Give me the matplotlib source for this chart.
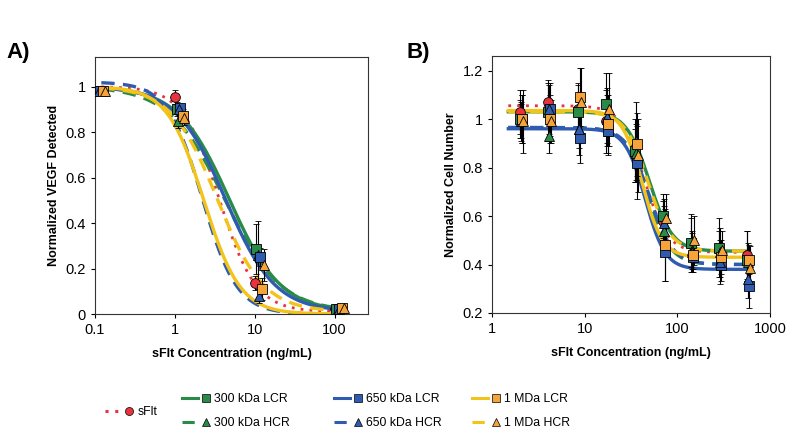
import numpy as np
import matplotlib
matplotlib.use("Agg")
import matplotlib.pyplot as plt
from matplotlib.lines import Line2D
from matplotlib.legend_handler import HandlerTuple

plt.rcParams['font.family'] = ['Liberation Sans', 'DejaVu Sans']

# series names
names = ['sFlt', '300 kDa LCR', '300 kDa HCR', '650 kDa LCR', '650 kDa HCR',
         '1 MDa LCR', '1 MDa HCR']

# panel A : VEGF detected
conc_a = [0.1, 1, 10, 100]
x_shift_a = [1.0, 1.05, 1.1, 1.15, 1.12, 1.25, 1.32]
vegf_y = [
    [0.98, 0.955, 0.135, 0.02],
    [0.98, 0.90, 0.285, 0.02],
    [0.98, 0.85, 0.26, 0.02],
    [0.98, 0.905, 0.25, 0.02],
    [0.98, 0.90, 0.08, 0.02],
    [0.98, 0.87, 0.11, 0.025],
    [0.98, 0.86, 0.215, 0.025],
]
vegf_err = [
    [0.01, 0.03, 0.03, 0.01],
    [0.01, 0.03, 0.11, 0.01],
    [0.01, 0.03, 0.15, 0.01],
    [0.01, 0.02, 0.04, 0.01],
    [0.01, 0.02, 0.03, 0.01],
    [0.01, 0.03, 0.05, 0.01],
    [0.01, 0.03, 0.07, 0.01],
]
# fit parameters (top, bottom, EC50, hill)
fit_a = [
    (1.00, 0.01, 3.6, 1.9),
    (1.00, 0.01, 4.8, 1.35),
    (1.00, 0.01, 4.2, 1.25),
    (1.00, 0.01, 4.3, 1.4),
    (1.02, 0.00, 2.2, 2.0),
    (1.00, 0.00, 2.3, 1.9),
    (1.00, 0.01, 3.4, 1.5),
]

# panel B : cell number
conc_b = [2, 4, 8.5, 17, 35, 70, 140, 280, 560]
x_shift_b = [1.0, 1.0, 1.03, 1.05, 1.03, 1.05, 1.08]
cell_y = [
    [1.03, 1.07, 1.04, 0.99, 0.85, 0.58, 0.49, 0.46, 0.44],
    [1.00, 1.03, 1.03, 1.06, 0.87, 0.60, 0.49, 0.47, 0.42],
    [0.99, 0.93, 0.96, 1.00, 0.86, 0.54, 0.46, 0.45, 0.41],
    [1.00, 1.04, 0.92, 0.95, 0.82, 0.45, 0.43, 0.40, 0.31],
    [0.99, 1.04, 0.96, 1.01, 0.91, 0.57, 0.45, 0.41, 0.34],
    [1.00, 1.00, 1.09, 0.98, 0.895, 0.48, 0.44, 0.43, 0.42],
    [0.99, 0.99, 1.07, 1.04, 0.85, 0.59, 0.50, 0.46, 0.385],
]
cell_err = [
    [0.09, 0.09, 0.10, 0.13, 0.11, 0.08, 0.10, 0.08, 0.10],
    [0.08, 0.12, 0.12, 0.13, 0.13, 0.09, 0.12, 0.12, 0.12],
    [0.07, 0.07, 0.08, 0.10, 0.12, 0.10, 0.08, 0.10, 0.08],
    [0.10, 0.11, 0.10, 0.10, 0.15, 0.12, 0.06, 0.07, 0.09],
    [0.08, 0.10, 0.11, 0.12, 0.16, 0.10, 0.08, 0.09, 0.08],
    [0.10, 0.10, 0.12, 0.12, 0.13, 0.15, 0.06, 0.07, 0.06],
    [0.13, 0.09, 0.14, 0.15, 0.15, 0.10, 0.10, 0.08, 0.09],
]
fit_b = [
    (1.055, 0.45, 44, 3.5),
    (1.03, 0.455, 50, 3.5),
    (0.965, 0.40, 48, 3.5),
    (0.96, 0.38, 45, 4.0),
    (0.965, 0.40, 50, 3.5),
    (1.035, 0.43, 42, 4.0),
    (1.03, 0.455, 48, 3.5),
]

green = '#2a8a48'
blue = '#2f5cb0'
yellow = '#f2c318'
orange = '#f5a33a'
red = '#e8333f'
line_col = [red, green, green, blue, blue, yellow, yellow]
mark_col = [red, green, green, blue, blue, orange, orange]
markers = ['o', 's', '^', 's', '^', 's', '^']
styles = [(0, (1, 2.2)), '-', (0, (4, 2.5)), '-', (0, (4, 2.5)), '-', (0, (4, 2.5))]


def logistic(x, top, bottom, ec50, hill):
    return bottom + (top - bottom) / (1 + (x / ec50) ** hill)


fig = plt.figure(figsize=(8, 4.43), dpi=100)
ax_a = fig.add_axes([95 / 800, 1 - 314 / 443, 273 / 800, 257 / 443])
ax_b = fig.add_axes([492 / 800, 1 - 313 / 443, 278 / 800, 257 / 443])

xa = np.logspace(np.log10(0.12), np.log10(100), 300)
xb = np.logspace(np.log10(1.5), np.log10(600), 300)

for i in range(len(names)):
    lw = 2.4 if i > 0 else 2.0
    ax_a.plot(xa, logistic(xa, *fit_a[i]), color=line_col[i], ls=styles[i], lw=lw, zorder=2)
    ax_b.plot(xb, logistic(xb, *fit_b[i]), color=line_col[i], ls=styles[i], lw=lw, zorder=2)

for i in range(len(names)):
    xs = np.array(conc_a) * x_shift_a[i]
    ax_a.errorbar(xs, vegf_y[i], yerr=vegf_err[i], fmt=markers[i], color='black',
                  mfc=mark_col[i], mec='black', mew=0.6, ms=7, ecolor='black',
                  elinewidth=0.8, capsize=2.5, zorder=3)
    xs = np.array(conc_b) * x_shift_b[i]
    ax_b.errorbar(xs, cell_y[i], yerr=cell_err[i], fmt=markers[i], color='black',
                  mfc=mark_col[i], mec='black', mew=0.6, ms=7, ecolor='black',
                  elinewidth=0.8, capsize=2.5, zorder=3)

ax_a.set_xscale('log')
ax_a.set_xlim(0.1, 262)
ax_a.set_ylim(0, 1.13)
ax_a.set_xticks([0.1, 1, 10, 100])
ax_a.set_xticklabels(['0.1', '1', '10', '100'])
ax_a.set_yticks([0, 0.2, 0.4, 0.6, 0.8, 1])
ax_a.set_yticklabels(['0', '0.2', '0.4', '0.6', '0.8', '1'])
ax_a.set_ylabel('Normalized VEGF Detected', fontsize=9, fontweight='bold')
ax_a.set_xlabel('sFlt Concentration (ng/mL)', fontsize=9, fontweight='bold', labelpad=8)

ax_b.set_xscale('log')
ax_b.set_xlim(1, 1000)
ax_b.set_ylim(0.2, 1.26)
ax_b.set_xticks([1, 10, 100, 1000])
ax_b.set_xticklabels(['1', '10', '100', '1000'])
ax_b.set_yticks([0.2, 0.4, 0.6, 0.8, 1.0, 1.2])
ax_b.set_yticklabels(['0.2', '0.4', '0.6', '0.8', '1', '1.2'])
ax_b.set_ylabel('Normalized Cell Number', fontsize=9, fontweight='bold')
ax_b.set_xlabel('sFlt Concentration (ng/mL)', fontsize=9, fontweight='bold', labelpad=8)

for ax in (ax_a, ax_b):
    ax.minorticks_off()
    ax.tick_params(labelsize=10.5, length=3, width=0.8, direction='out')
    for s in ax.spines.values():
        s.set_linewidth(0.8)
        s.set_color('#333333')

fig.text(0.008, 0.87, 'A)', fontsize=16, fontweight='bold')
fig.text(0.508, 0.87, 'B)', fontsize=16, fontweight='bold')

# legend : one block per column
handles = []
for i in range(len(names)):
    ln = Line2D([], [], color=line_col[i], ls=styles[i], lw=2.2)
    mk = Line2D([], [], ls='none', marker=markers[i], mfc=mark_col[i], mec='black',
                mew=0.5, ms=5.8)
    handles.append((ln, mk))

hmap = {tuple: HandlerTuple(ndivide=2, pad=0)}
leg_opts = dict(loc='center left', frameon=False, fontsize=8.8, handlelength=2.6,
                handletextpad=0.05, borderpad=0, borderaxespad=0, labelspacing=0.95,
                handler_map=hmap)
fig.legend([handles[0]], [names[0]], bbox_to_anchor=(105 / 800, 1 - 412 / 443), **leg_opts)
col_x = [182, 334, 472]
for c in range(3):
    idx = [1 + 2 * c, 2 + 2 * c]
    fig.legend([handles[k] for k in idx], [names[k] for k in idx],
               bbox_to_anchor=(col_x[c] / 800, 1 - 411 / 443), **leg_opts)

fig.savefig('out.png', dpi=100)
